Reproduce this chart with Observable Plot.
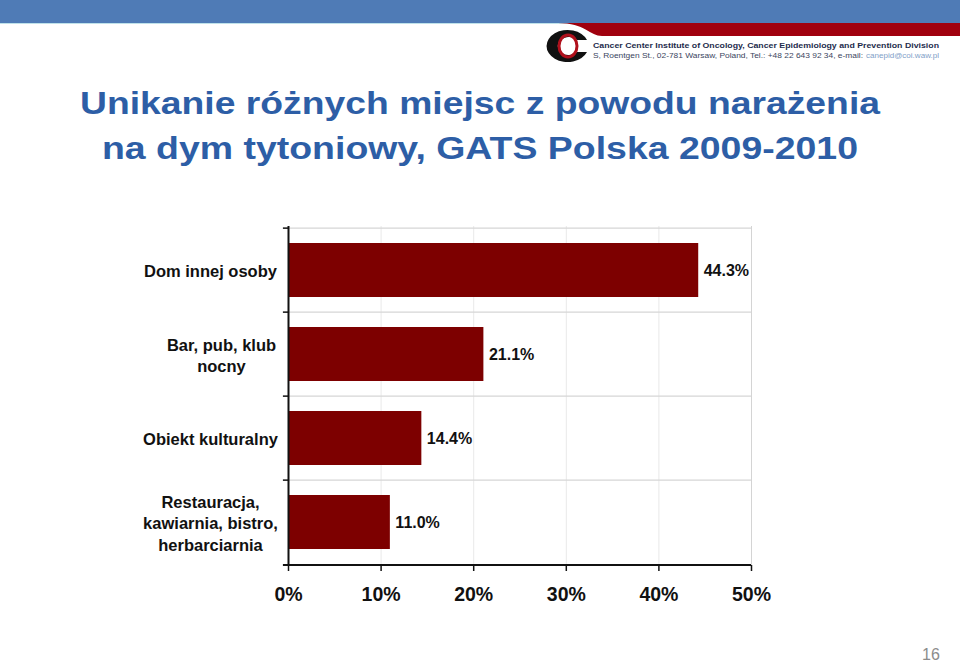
<!DOCTYPE html>
<html>
<head>
<meta charset="utf-8">
<script src="https://cdn.jsdelivr.net/npm/d3@7"></script>
<script src="https://cdn.jsdelivr.net/npm/@observablehq/plot@0.6"></script>
<style>
  html, body { margin: 0; padding: 0; background: #fff; }
  #page { position: relative; width: 960px; height: 663px; overflow: hidden; font-family: "Liberation Sans", Arial, sans-serif; }
  #band { position: absolute; left: 0; top: 0; width: 960px; height: 23px; background: #4f7bb6; border-bottom: 1px solid #bfe2ea; }
  #logo { position: absolute; left: 0; top: 0; }
  #title { position: absolute; left: 0; top: 70px; }
  #chart { position: absolute; left: 0; top: 200px; }
  #pagenum { position: absolute; left: 922px; top: 646px; font-size: 16px; color: #8c8c8c; }
</style>
</head>
<body>
<div id="page">
  <div id="band"></div>
  <svg id="logo" width="960" height="70">
    <path d="M558,23 C585,23 590,36 602,36 L960,36 L960,23 Z" fill="#a0000e"/>
    <g transform="translate(568,46)">
      <path d="M19,-6 A21,16 0 1 0 19,6 L9,6 A11,9 0 1 1 9,-6 Z" fill="#111"/>
      <ellipse cx="0" cy="0" rx="9" ry="11" fill="none" stroke="#b0101c" stroke-width="3"/>
      <ellipse cx="0" cy="0" rx="6" ry="8.5" fill="#fff"/>
    </g>
    <text x="593" y="48" font-family="Liberation Sans, Arial, sans-serif" font-weight="bold" font-size="7.5" fill="#1d2b4c" textLength="346" lengthAdjust="spacingAndGlyphs">Cancer Center Institute of Oncology, Cancer Epidemiology and Prevention Division</text>
    <text x="593" y="58" font-family="Liberation Sans, Arial, sans-serif" font-size="7.5" fill="#3a4560" textLength="270" lengthAdjust="spacingAndGlyphs">S, Roentgen St., 02-781 Warsaw, Poland, Tel.: +48 22 643 92 34, e-mail:</text>
    <text x="866" y="58" font-family="Liberation Sans, Arial, sans-serif" font-size="7.5" fill="#7fa0c8" textLength="73" lengthAdjust="spacingAndGlyphs">canepid@coi.waw.pl</text>
  </svg>
  <svg id="title" width="960" height="100">
    <text x="80" y="44" font-family="Liberation Sans, Arial, sans-serif" font-weight="bold" font-size="31.5" fill="#2d5ea6" textLength="800" lengthAdjust="spacingAndGlyphs">Unikanie różnych miejsc z powodu narażenia</text>
    <text x="102" y="89" font-family="Liberation Sans, Arial, sans-serif" font-weight="bold" font-size="31.5" fill="#2d5ea6" textLength="756" lengthAdjust="spacingAndGlyphs">na dym tytoniowy, GATS Polska 2009-2010</text>
  </svg>
  <div id="chart"></div>
  <div id="pagenum">16</div>
</div>
<script>
const categories = ["Dom innej osoby", "Bar, pub, klub\nnocny", "Obiekt kulturalny", "Restauracja,\nkawiarnia, bistro,\nherbarciarnia"];
const values = [0.443, 0.211, 0.144, 0.110];
const xTicks = [0, 0.1, 0.2, 0.3, 0.4, 0.5];

const data = categories.map((c, i) => ({category: c, value: values[i]}));
const half = 339 / categories.length / 2;
const labelFont = {fontWeight: "bold", fill: "#111", fontFamily: "Liberation Sans, Arial, sans-serif"};

const chart = Plot.plot({
  width: 960,
  height: 430,
  marginLeft: 288,
  marginRight: 209,
  marginTop: 26,
  marginBottom: 65,
  style: {fontFamily: "Liberation Sans, Arial, sans-serif", background: "transparent", overflow: "visible"},
  x: {domain: [0, 0.5]},
  y: {domain: categories, paddingInner: 0.36, paddingOuter: 0.18, axis: null},
  marks: [
    Plot.ruleX(xTicks.slice(1, -1), {stroke: "#e9e9e9", strokeWidth: 1}),
    Plot.ruleX([0.5], {stroke: "#d4d4d4", strokeWidth: 1}),
    Plot.ruleY(categories, {y: d => d, dy: -half, stroke: "#d6d6d6", strokeWidth: 1.2}),
    Plot.barX(data, {y: "category", x: "value", fill: "#7d0000"}),
    Plot.text(data, {y: "category", x: "value", text: d => d3.format(".1%")(d.value), textAnchor: "start", dx: 5, fontSize: 16, ...labelFont}),
    Plot.text(data, {filter: d => !d.category.startsWith("Bar"), y: "category", text: "category", frameAnchor: "left", textAnchor: "middle", dx: -78, fontSize: 16.5, lineHeight: 1.32, ...labelFont}),
    Plot.text(data, {filter: d => d.category.startsWith("Bar"), y: "category", text: "category", frameAnchor: "left", textAnchor: "middle", dx: -67, fontSize: 16.5, lineHeight: 1.32, ...labelFont}),
    Plot.ruleY(categories, {y: d => d, dy: -half, x1: -0.0055, x2: 0, stroke: "#111", strokeWidth: 1.5, clip: false}),
    Plot.ruleY(categories.slice(-1), {y: d => d, dy: half, x1: -0.0055, x2: 0.5, stroke: "#111", strokeWidth: 2}),
    Plot.ruleX([0], {stroke: "#111", strokeWidth: 2}),
    Plot.axisX({ticks: xTicks, tickFormat: d3.format(".0%"), tickSize: 6, tickPadding: 16, fontSize: 19.5, fontWeight: "bold", stroke: "#111", strokeWidth: 1.5, fill: "#111", label: null})
  ]
});
document.getElementById("chart").appendChild(chart);
</script>
</body>
</html>
